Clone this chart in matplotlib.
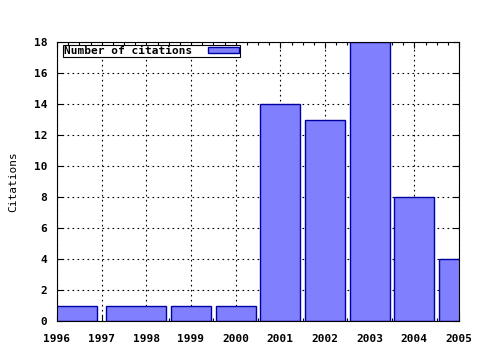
import numpy as np
import matplotlib
matplotlib.use("Agg")
import matplotlib.pyplot as plt
from matplotlib.ticker import MultipleLocator

# citation counts per year (1997 has no entry)
years = [1996, 1998, 1999, 2000, 2001, 2002, 2003, 2004, 2005]
citations = [1, 1, 1, 1, 14, 13, 18, 8, 4]
tick_years = list(range(1996, 2006))
y_ticks = list(range(0, 19, 2))

plt.rcParams['font.family'] = ['DejaVu Sans Mono']
plt.rcParams['font.weight'] = 'bold'
plt.rcParams['font.size'] = 8

# box edges like gnuplot "with boxes": 90% of the half-gap to each neighbour
x = np.array(years, dtype=float)
gaps = np.diff(x)
left_half = np.concatenate([[gaps[0]], gaps]) / 2 * 0.9
right_half = np.concatenate([gaps, [gaps[-1]]]) / 2 * 0.9
lefts = x - left_half
widths = left_half + right_half

fig = plt.figure(figsize=(4.8, 3.5), dpi=100)
ax = fig.add_axes([57 / 480, 29 / 350, 402 / 480, 279 / 350])

ax.bar(lefts, citations, width=widths, align='edge', color='#8080ff',
       edgecolor='#0000a0', linewidth=1.0, label='Number of citations', zorder=2)

ax.set_xlim(1996, 2005)
ax.set_ylim(0, 18)
ax.set_xticks(tick_years)
ax.set_xticklabels([str(t) for t in tick_years])
ax.set_yticks(y_ticks)
ax.xaxis.set_minor_locator(MultipleLocator(0.25))

ax.grid(True, which='major', color='black', linestyle=(0, (1.5, 3)), linewidth=0.8, zorder=0)
ax.set_axisbelow(True)

ax.tick_params(which='both', direction='in', top=True, right=True, width=0.8)
ax.tick_params(which='major', length=4)
ax.tick_params(which='minor', length=2)
ax.tick_params(axis='x', pad=9)
ax.tick_params(axis='y', pad=7)
for s in ax.spines.values():
    s.set_linewidth(0.8)

ax.set_ylabel('Citations', labelpad=11)

leg = ax.legend(loc='upper left', bbox_to_anchor=(0.015, 0.99), markerfirst=False,
                fancybox=False, framealpha=1, edgecolor='black', borderpad=0.1,
                handlelength=2.8, handleheight=0.5, handletextpad=1.4,
                borderaxespad=0)
leg.get_frame().set_linewidth(0.8)

fig.savefig('out.png', dpi=100)
